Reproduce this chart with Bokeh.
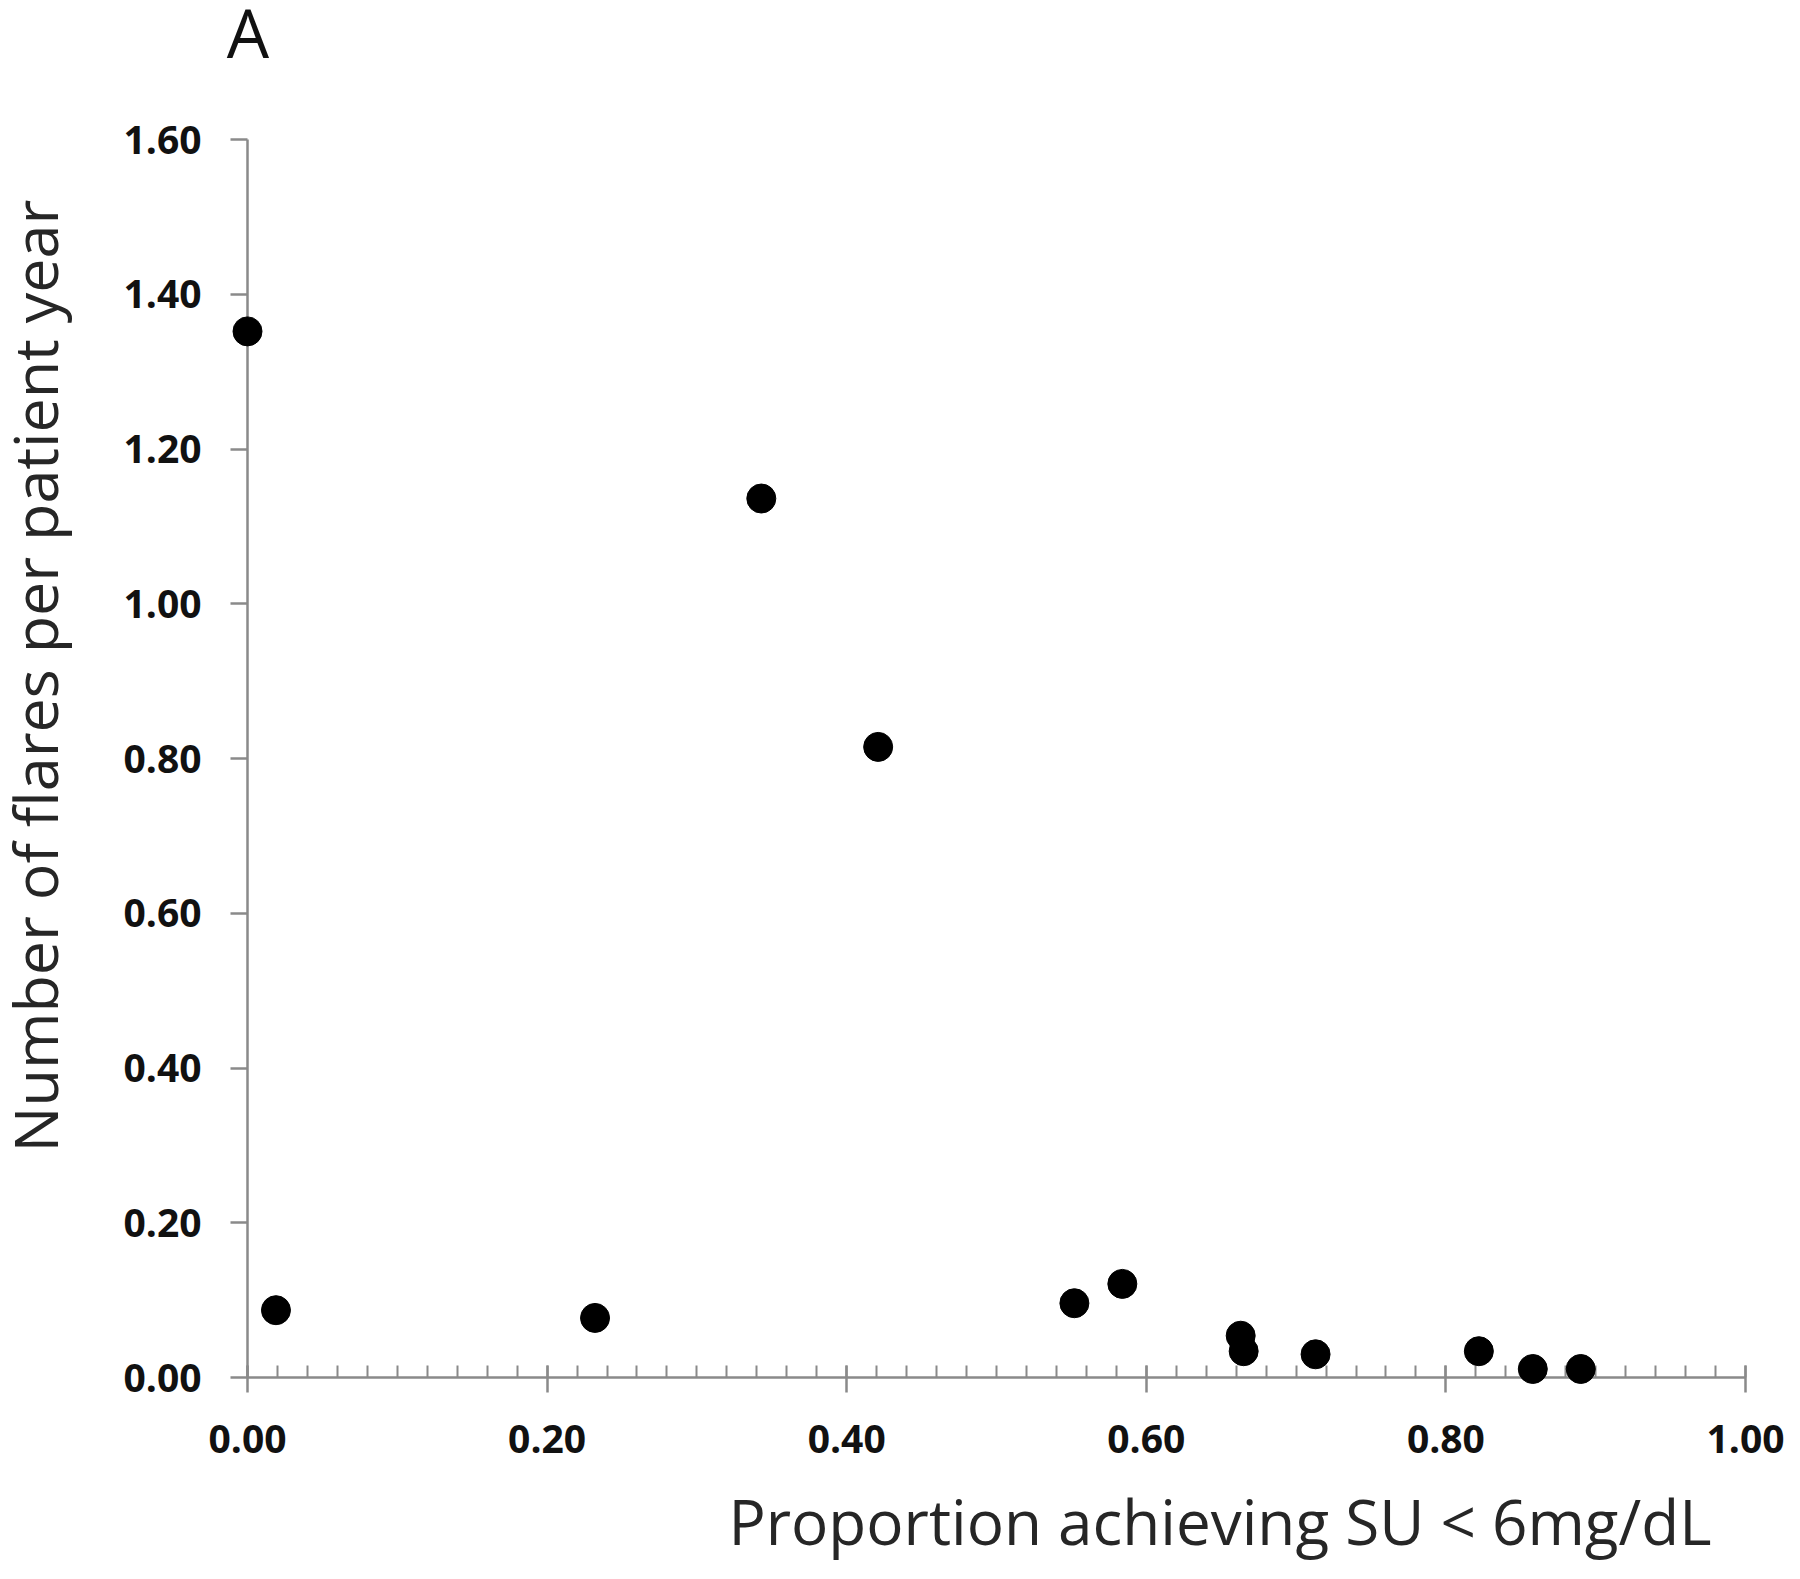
import math
from bokeh.plotting import figure
from bokeh.models import Range1d, LinearAxis, FixedTicker, ColumnDataSource, NumeralTickFormatter
from bokeh.core.properties import value
from bokeh.embed import file_html
from bokeh.resources import INLINE

# Data
proportion_su6 = [0.000, 0.019, 0.232, 0.343, 0.421, 0.552, 0.584, 0.663, 0.665, 0.713, 0.822, 0.858, 0.890]
flares_per_patient_year = [1.352, 0.087, 0.077, 1.136, 0.815, 0.096, 0.121, 0.054, 0.034, 0.030, 0.034, 0.011, 0.011]

x_ticks = [0.0, 0.2, 0.4, 0.6, 0.8, 1.0]
x_minor_ticks = [round(i * 0.02, 4) for i in range(51)]
y_ticks = [0.0, 0.2, 0.4, 0.6, 0.8, 1.0, 1.2, 1.4, 1.6]
x_label = "Proportion achieving SU < 6mg/dL"
y_label = "Number of flares per patient year"
panel_letter = "A"

AXIS_COLOR = "#8a8a8a"
TICK_FONT = "Open Sans"
LABEL_FONT = "Open Sans"

p = figure(
    width=1784, height=1563,
    frame_width=1498, frame_height=1238,
    min_border_left=247, min_border_right=39, min_border_top=139, min_border_bottom=186,
    x_range=Range1d(0, 1.0), y_range=Range1d(0, 1.6),
    output_backend="svg", toolbar_location=None,
    x_axis_location=None, y_axis_location=None,
)
p.outline_line_color = None
p.xgrid.visible = False
p.ygrid.visible = False
p.background_fill_color = "white"
p.border_fill_color = "white"

xaxis = LinearAxis(ticker=FixedTicker(ticks=x_ticks, minor_ticks=x_minor_ticks))
xaxis.formatter = NumeralTickFormatter(format="0.00")
xaxis.axis_line_color = AXIS_COLOR
xaxis.axis_line_width = 2.5
xaxis.major_tick_line_color = AXIS_COLOR
xaxis.major_tick_line_width = 2.5
xaxis.major_tick_in = 12
xaxis.major_tick_out = 15
xaxis.minor_tick_line_color = AXIS_COLOR
xaxis.minor_tick_line_width = 2
xaxis.minor_tick_in = 12
xaxis.minor_tick_out = 0
xaxis.major_label_text_font = TICK_FONT
xaxis.major_label_text_font_style = "bold"
xaxis.major_label_text_font_size = "39px"
xaxis.major_label_text_color = "#111111"
xaxis.major_label_standoff = 32
p.add_layout(xaxis, "below")

yaxis = LinearAxis(ticker=FixedTicker(ticks=y_ticks, minor_ticks=[]))
yaxis.formatter = NumeralTickFormatter(format="0.00")
yaxis.axis_line_color = AXIS_COLOR
yaxis.axis_line_width = 2.5
yaxis.major_tick_line_color = AXIS_COLOR
yaxis.major_tick_line_width = 2.5
yaxis.major_tick_in = 0
yaxis.major_tick_out = 17
yaxis.minor_tick_line_color = None
yaxis.major_label_text_font = TICK_FONT
yaxis.major_label_text_font_style = "bold"
yaxis.major_label_text_font_size = "39px"
yaxis.major_label_text_color = "#111111"
yaxis.major_label_standoff = 29
p.add_layout(yaxis, "left")

src = ColumnDataSource(dict(x=proportion_su6, y=flares_per_patient_year))
p.scatter("x", "y", source=src, size=29, fill_color="black", line_color="black", level="overlay")

# Axis titles and panel letter (drawn outside the frame, not clipped at overlay level)
p.text(x=[0.6492], y=[-0.186], text=[x_label], text_align="center", text_baseline="alphabetic",
       text_font=value(LABEL_FONT), text_font_size="62px", text_color="#262626", level="overlay")
p.text(x=[-0.1422], y=[0.9066], text=[y_label], angle=math.pi / 2, text_align="center",
       text_baseline="alphabetic", text_font=value(LABEL_FONT), text_font_size="61px",
       text_color="#262626", level="overlay")
p.text(x=[0.0003], y=[1.7383], text=[panel_letter], text_align="center", text_baseline="alphabetic",
       text_font=value(LABEL_FONT), text_font_size="67px", text_color="#111111", level="overlay")

open("out.html", "w").write(file_html(p, INLINE))
